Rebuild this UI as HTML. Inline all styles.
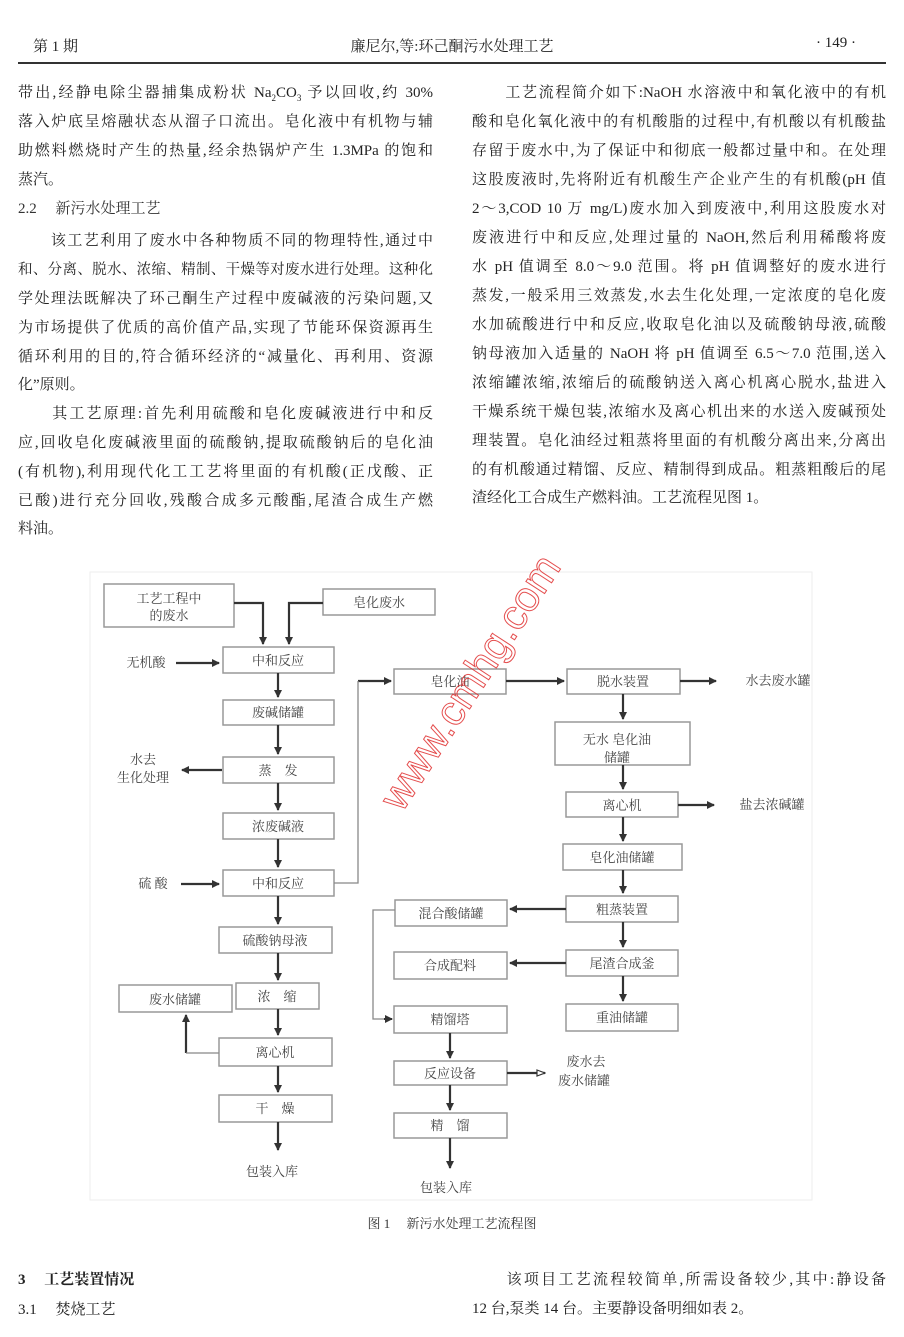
<!DOCTYPE html>
<html><head><meta charset="utf-8">
<style>
html,body{margin:0;padding:0;background:#fff;}
body{width:904px;height:1337px;position:relative;overflow:hidden;font-family:"Liberation Serif","Noto Serif CJK SC",serif;color:#222;}
.l{position:absolute;font-size:15px;line-height:18px;white-space:nowrap;}
.j{text-align:justify;text-align-last:justify;white-space:normal;height:18px;overflow:visible;}
.c1{left:18px;width:415px;}
.c2{left:472px;width:414px;}
.h{position:absolute;font-size:15px;}
svg{position:absolute;left:0;top:0;}
svg text{font-family:"Liberation Serif","Noto Serif CJK SC",serif;font-size:13px;fill:#444;}
</style></head><body>
<div class="h" style="left:33px;top:35px;">第 1 期</div>
<div class="h" style="left:0;width:904px;text-align:center;top:35px;">廉尼尔,等:环己酮污水处理工艺</div>
<div class="h" style="left:816px;top:35px;">· 149 ·</div>
<div style="position:absolute;left:18px;top:62px;width:868px;height:2px;background:#333;"></div>

<div class="l c1 j" style="top:84px;">带出,经静电除尘器捕集成粉状 Na<sub style="font-size:9px">2</sub>CO<sub style="font-size:9px">3</sub> 予以回收,约 30%</div>
<div class="l c1 j" style="top:113px;">落入炉底呈熔融状态从溜子口流出。皂化液中有机物与辅</div>
<div class="l c1 j" style="top:142px;">助燃料燃烧时产生的热量,经余热锅炉产生 1.3MPa 的饱和</div>
<div class="l c1" style="top:171px;">蒸汽。</div>
<div class="l c1" style="top:200px;color:#333;">2.2　 新污水处理工艺</div>
<div class="l c1 j" style="top:232px;">　　该工艺利用了废水中各种物质不同的物理特性,通过中</div>
<div class="l c1 j" style="top:261px;font-size:14.5px;">和、分离、脱水、浓缩、精制、干燥等对废水进行处理。这种化</div>
<div class="l c1 j" style="top:290px;">学处理法既解决了环己酮生产过程中废碱液的污染问题,又</div>
<div class="l c1 j" style="top:319px;">为市场提供了优质的高价值产品,实现了节能环保资源再生</div>
<div class="l c1 j" style="top:348px;">循环利用的目的,符合循环经济的“减量化、再利用、资源</div>
<div class="l c1" style="top:376px;">化”原则。</div>
<div class="l c1 j" style="top:405px;">　　其工艺原理:首先利用硫酸和皂化废碱液进行中和反</div>
<div class="l c1 j" style="top:434px;">应,回收皂化废碱液里面的硫酸钠,提取硫酸钠后的皂化油</div>
<div class="l c1 j" style="top:463px;">(有机物),利用现代化工工艺将里面的有机酸(正戊酸、正</div>
<div class="l c1 j" style="top:492px;">已酸)进行充分回收,残酸合成多元酸酯,尾渣合成生产燃</div>
<div class="l c1" style="top:520px;">料油。</div>

<div class="l c2 j" style="top:84px;">　　工艺流程简介如下:NaOH 水溶液中和氧化液中的有机</div>
<div class="l c2 j" style="top:113px;">酸和皂化氧化液中的有机酸脂的过程中,有机酸以有机酸盐</div>
<div class="l c2 j" style="top:142px;">存留于废水中,为了保证中和彻底一般都过量中和。在处理</div>
<div class="l c2 j" style="top:171px;">这股废液时,先将附近有机酸生产企业产生的有机酸(pH 值</div>
<div class="l c2 j" style="top:200px;">2～3,COD 10 万 mg/L)废水加入到废液中,利用这股废水对</div>
<div class="l c2 j" style="top:229px;">废液进行中和反应,处理过量的 NaOH,然后利用稀酸将废</div>
<div class="l c2 j" style="top:258px;">水 pH 值调至 8.0～9.0 范围。将 pH 值调整好的废水进行</div>
<div class="l c2 j" style="top:287px;">蒸发,一般采用三效蒸发,水去生化处理,一定浓度的皂化废</div>
<div class="l c2 j" style="top:316px;">水加硫酸进行中和反应,收取皂化油以及硫酸钠母液,硫酸</div>
<div class="l c2 j" style="top:345px;">钠母液加入适量的 NaOH 将 pH 值调至 6.5～7.0 范围,送入</div>
<div class="l c2 j" style="top:374px;">浓缩罐浓缩,浓缩后的硫酸钠送入离心机离心脱水,盐进入</div>
<div class="l c2 j" style="top:403px;">干燥系统干燥包装,浓缩水及离心机出来的水送入废碱预处</div>
<div class="l c2 j" style="top:432px;">理装置。皂化油经过粗蒸将里面的有机酸分离出来,分离出</div>
<div class="l c2 j" style="top:461px;">的有机酸通过精馏、反应、精制得到成品。粗蒸粗酸后的尾</div>
<div class="l c2" style="top:489px;">渣经化工合成生产燃料油。工艺流程见图 1。</div>

<svg width="904" height="1337" viewBox="0 0 904 1337">
<defs>
<marker id="a" markerWidth="8" markerHeight="8" refX="7" refY="4" orient="auto" markerUnits="userSpaceOnUse"><path d="M0,0 L8,4 L0,8 Z" fill="#333"/></marker>
<marker id="o" markerWidth="10" markerHeight="8" refX="9" refY="4" orient="auto" markerUnits="userSpaceOnUse"><path d="M1,1 L9,4 L1,7 Z" fill="#fff" stroke="#333" stroke-width="1.2"/></marker>
</defs>
<rect x="90" y="572" width="722" height="628" fill="none" stroke="#eee" stroke-width="1"/>
<g fill="#fff" stroke="#999" stroke-width="1.5">
<rect x="104" y="584" width="130" height="43"/>
<rect x="323" y="589" width="112" height="26"/>
<rect x="223" y="647" width="111" height="26"/>
<rect x="223" y="700" width="111" height="25"/>
<rect x="223" y="757" width="111" height="26"/>
<rect x="223" y="813" width="111" height="26"/>
<rect x="223" y="870" width="111" height="26"/>
<rect x="219" y="927" width="113" height="26"/>
<rect x="236" y="983" width="83" height="26"/>
<rect x="119" y="985" width="113" height="27"/>
<rect x="219" y="1038" width="113" height="28"/>
<rect x="219" y="1095" width="113" height="27"/>
<rect x="394" y="669" width="112" height="25"/>
<rect x="567" y="669" width="113" height="25"/>
<rect x="555" y="722" width="135" height="43"/>
<rect x="566" y="792" width="112" height="25"/>
<rect x="563" y="844" width="119" height="26"/>
<rect x="566" y="896" width="112" height="26"/>
<rect x="566" y="950" width="112" height="26"/>
<rect x="566" y="1004" width="112" height="27"/>
<rect x="395" y="900" width="112" height="26"/>
<rect x="394" y="952" width="113" height="27"/>
<rect x="394" y="1006" width="113" height="27"/>
<rect x="394" y="1061" width="113" height="24"/>
<rect x="394" y="1113" width="113" height="25"/>
</g>
<g fill="none" stroke="#333" stroke-width="2.2">
<path d="M234 603 H263 V644" marker-end="url(#a)"/>
<path d="M323 603 H289 V644" marker-end="url(#a)"/>
<path d="M176 663 H219" marker-end="url(#a)"/>
<path d="M278 673 V697" marker-end="url(#a)"/>
<path d="M278 725 V754" marker-end="url(#a)"/>
<path d="M222 770 H182" marker-end="url(#a)"/>
<path d="M278 783 V810" marker-end="url(#a)"/>
<path d="M278 839 V867" marker-end="url(#a)"/>
<path d="M181 884 H219" marker-end="url(#a)"/>
<path d="M278 896 V924" marker-end="url(#a)"/>
<path d="M278 953 V980" marker-end="url(#a)"/>
<path d="M278 1009 V1035" marker-end="url(#a)"/>
<path d="M278 1066 V1092" marker-end="url(#a)"/>
<path d="M278 1122 V1150" marker-end="url(#a)"/>
<path d="M186 1053 V1015" marker-end="url(#a)"/>
<path d="M358 681 H391" marker-end="url(#a)"/>
<path d="M506 681 H564" marker-end="url(#a)"/>
<path d="M680 681 H716" marker-end="url(#a)"/>
<path d="M623 694 V719" marker-end="url(#a)"/>
<path d="M623 765 V789" marker-end="url(#a)"/>
<path d="M678 805 H714" marker-end="url(#a)"/>
<path d="M623 817 V841" marker-end="url(#a)"/>
<path d="M623 870 V893" marker-end="url(#a)"/>
<path d="M623 922 V947" marker-end="url(#a)"/>
<path d="M623 976 V1001" marker-end="url(#a)"/>
<path d="M566 909 H510" marker-end="url(#a)"/>
<path d="M566 963 H510" marker-end="url(#a)"/>
<path d="M450 1033 V1058" marker-end="url(#a)"/>
<path d="M450 1085 V1110" marker-end="url(#a)"/>
<path d="M450 1138 V1168" marker-end="url(#a)"/>
<path d="M507 1073 H545" marker-end="url(#o)"/>
</g>
<g fill="none" stroke="#888" stroke-width="1.3">
<path d="M186 1053 H219"/>
<path d="M334 883 H358 V681"/>
<path d="M395 910 H373 V1019 H392" />
</g>
<path d="M384 1019 L392 1019" stroke="#333" stroke-width="2" marker-end="url(#a)"/>
<g text-anchor="middle">
<text x="169" y="603">工艺工程中</text><text x="169" y="620">的废水</text>
<text x="379" y="607">皂化废水</text>
<text x="278" y="665">中和反应</text>
<text x="278" y="717">废碱储罐</text>
<text x="278" y="775">蒸　发</text>
<text x="278" y="831">浓废碱液</text>
<text x="278" y="888">中和反应</text>
<text x="275" y="945">硫酸钠母液</text>
<text x="277" y="1001">浓　缩</text>
<text x="175" y="1004">废水储罐</text>
<text x="275" y="1057">离心机</text>
<text x="275" y="1113">干　燥</text>
<text x="272" y="1176">包装入库</text>
<text x="146" y="667">无机酸</text>
<text x="143" y="764">水去</text><text x="143" y="782">生化处理</text>
<text x="153" y="888">硫 酸</text>
<text x="450" y="686">皂化油</text>
<text x="623" y="686">脱水装置</text>
<text x="778" y="685">水去废水罐</text>
<text x="617" y="744">无水 皂化油</text><text x="617" y="762">储罐</text>
<text x="622" y="810">离心机</text>
<text x="772" y="809">盐去浓碱罐</text>
<text x="622" y="862">皂化油储罐</text>
<text x="622" y="914">粗蒸装置</text>
<text x="622" y="968">尾渣合成釜</text>
<text x="622" y="1022">重油储罐</text>
<text x="451" y="918">混合酸储罐</text>
<text x="450" y="970">合成配料</text>
<text x="450" y="1024">精馏塔</text>
<text x="450" y="1078">反应设备</text>
<text x="450" y="1130">精　馏</text>
<text x="446" y="1192">包装入库</text>
<text x="586" y="1066">废水去</text><text x="584" y="1085">废水储罐</text>
</g>
<text x="482" y="690" transform="rotate(-57 482 690)" text-anchor="middle" style="font-family:'Liberation Sans',sans-serif;font-size:42px;fill:none;stroke:#e03030;stroke-width:1;opacity:0.85;">www.cmhg.com</text>
</svg>

<div class="h" style="left:0;width:904px;text-align:center;top:1213px;font-size:13px;color:#333;">图 1　 新污水处理工艺流程图</div>

<div class="l" style="left:18px;top:1271px;font-weight:bold;">3　 工艺装置情况</div>
<div class="l" style="left:18px;top:1301px;">3.1　 焚烧工艺</div>
<div class="l c2 j" style="top:1271px;">　　该项目工艺流程较简单,所需设备较少,其中:静设备</div>
<div class="l c2" style="top:1300px;">12 台,泵类 14 台。主要静设备明细如表 2。</div>
</body></html>
